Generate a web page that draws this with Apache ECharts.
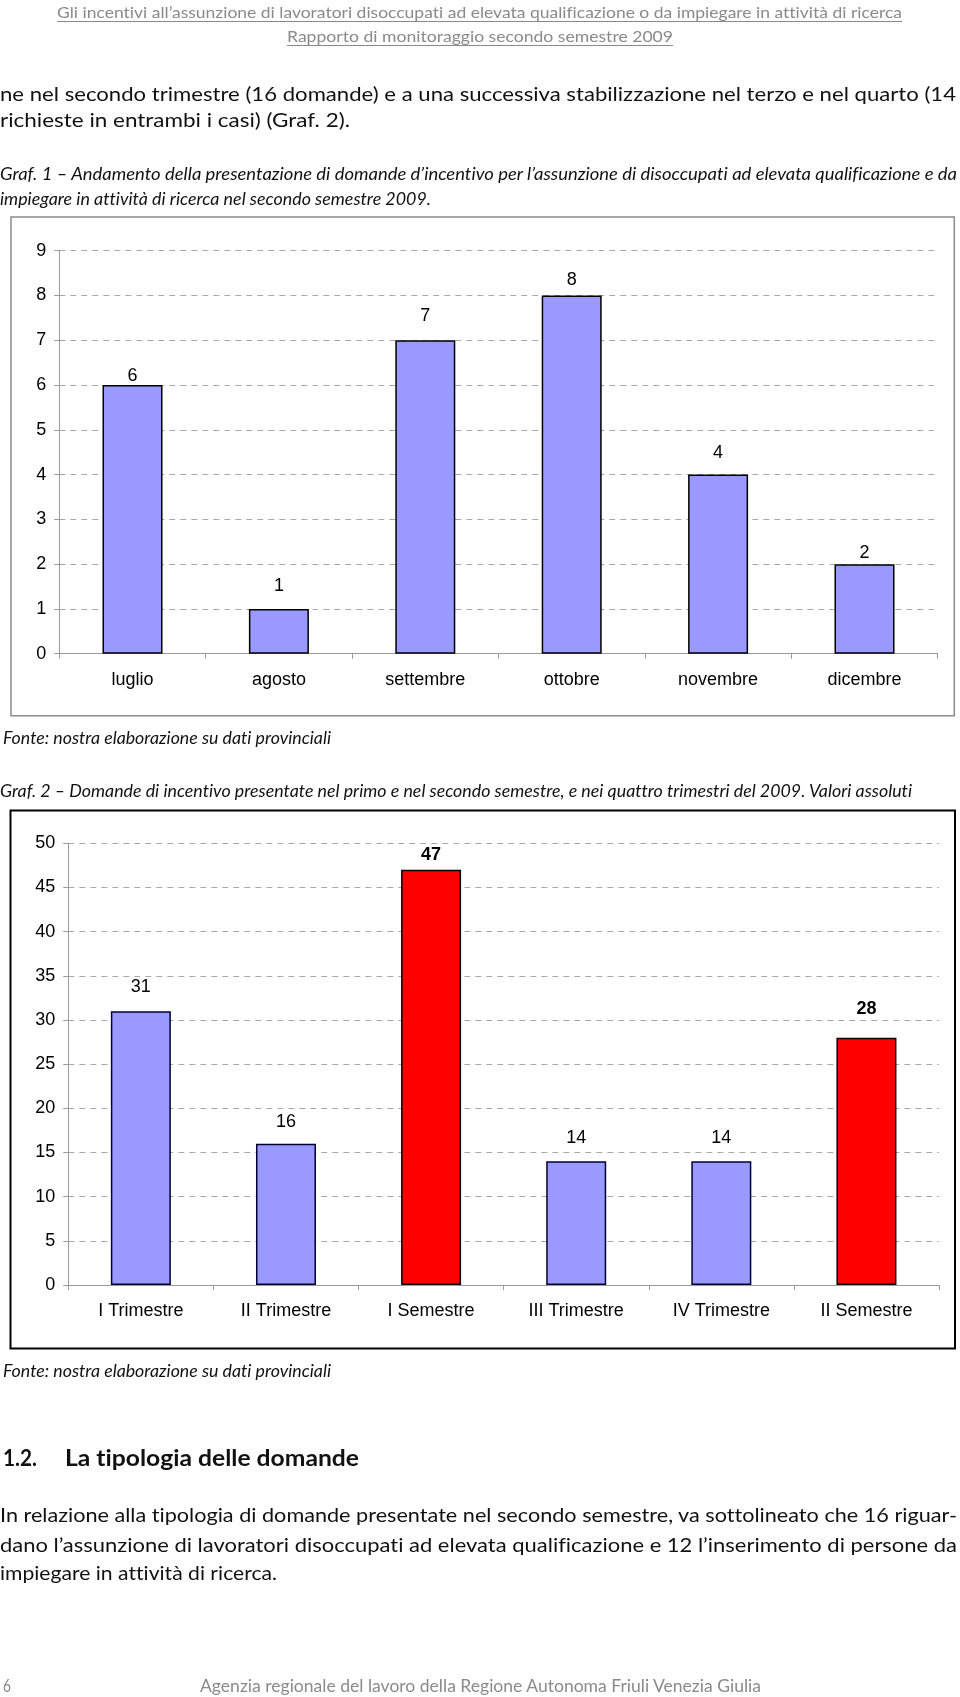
<!DOCTYPE html>
<html>
<head>
<meta charset="utf-8">
<script src="https://cdn.jsdelivr.net/npm/echarts@6/dist/echarts.min.js"></script>
<style>
  html, body { margin:0; padding:0; background:#fff; }
  body { width:960px; height:1697px; position:relative; overflow:hidden; }
  #chart { position:absolute; left:0; top:0; width:960px; height:1697px; }
  .ln { position:absolute; white-space:nowrap; font-family:Lato, 'Open Sans', sans-serif; color:#111; transform-origin:0 50%; z-index:2;
        font-variant-ligatures:none; font-feature-settings:"liga" 0, "clig" 0, "dlig" 0; }
  .hdr { color:#8a8a8a; text-decoration:underline; text-decoration-thickness:1px; text-underline-offset:3px; }
  .it { font-style:italic; }
  .bd { font-weight:bold; }
  .gr { color:#8a8a8a; }
</style>
</head>
<body>
<div id="chart"></div>
<script>
// ---------- DATA ----------
const months = ['luglio', 'agosto', 'settembre', 'ottobre', 'novembre', 'dicembre'];
const monthRequests = [6, 1, 7, 8, 4, 2];
const monthAxisTicks = [0, 1, 2, 3, 4, 5, 6, 7, 8, 9];

const periods = ['I Trimestre', 'II Trimestre', 'I Semestre', 'III Trimestre', 'IV Trimestre', 'II Semestre'];
const periodRequests = [31, 16, 47, 14, 14, 28];
const periodIsSemester = [false, false, true, false, false, true];
const periodAxisTicks = [0, 5, 10, 15, 20, 25, 30, 35, 40, 45, 50];

// ---------- PAGE TEXT ----------
const lines = [
  {t:'Gli incentivi all’assunzione di lavoratori disoccupati ad elevata qualificazione o da impiegare in attività di ricerca', x:57, w:845, y:12, fs:16, c:'hdr'},
  {t:'Rapporto di monitoraggio secondo semestre 2009', x:287, w:386, y:36, fs:16, c:'hdr'},
  {t:'ne nel secondo trimestre (16 domande) e a una successiva stabilizzazione nel terzo e nel quarto (14', x:0, w:956, y:94, fs:19},
  {t:'richieste in entrambi i casi) (Graf. 2).', x:0, w:350, y:120, fs:19},
  {t:'Graf. 1 – Andamento della presentazione di domande d’incentivo per l’assunzione di disoccupati ad elevata qualificazione e da', x:0, w:957, y:173, fs:17, c:'it'},
  {t:'impiegare in attività di ricerca nel secondo semestre 2009.', x:0, w:431, y:198, fs:17, c:'it'},
  {t:'Fonte: nostra elaborazione su dati provinciali', x:3, w:328, y:737, fs:17, c:'it'},
  {t:'Graf. 2 – Domande di incentivo presentate nel primo e nel secondo semestre, e nei quattro trimestri del 2009. Valori assoluti', x:0, w:912, y:790, fs:17, c:'it'},
  {t:'Fonte: nostra elaborazione su dati provinciali', x:3, w:328, y:1370, fs:17, c:'it'},
  {t:'1.2.', x:3, w:34, y:1457, fs:23, c:'bd'},
  {t:'La tipologia delle domande', x:65, w:294, y:1457, fs:23, c:'bd'},
  {t:'In relazione alla tipologia di domande presentate nel secondo semestre, va sottolineato che 16 riguar-', x:0, w:957, y:1515, fs:19},
  {t:'dano l’assunzione di lavoratori disoccupati ad elevata qualificazione e 12 l’inserimento di persone da', x:0, w:957, y:1545, fs:19},
  {t:'impiegare in attività di ricerca.', x:0, w:277, y:1573, fs:19},
  {t:'6', x:3, w:8, y:1685, fs:17, c:'gr'},
  {t:'Agenzia regionale del lavoro della Regione Autonoma Friuli Venezia Giulia', x:200, w:561, y:1685, fs:18, c:'gr'}
];
const spans = lines.map(l => {
  const s = document.createElement('span');
  s.className = 'ln ' + (l.c || '');
  s.textContent = l.t;
  const lh = Math.round(l.fs * 1.25);
  s.style.fontSize = l.fs + 'px';
  s.style.lineHeight = lh + 'px';
  s.style.left = l.x + 'px';
  s.style.top = (l.y - lh / 2) + 'px';
  document.body.appendChild(s);
  return s;
});
function fit() {
  spans.forEach((s, i) => {
    s.style.transform = 'none';
    const nat = s.getBoundingClientRect().width;
    if (nat > 0) s.style.transform = 'scaleX(' + (lines[i].w / nat) + ')';
  });
}
fit();
if (document.fonts && document.fonts.ready) document.fonts.ready.then(fit);

// ---------- CHART ----------
const FF = "'Liberation Sans', Arial, sans-serif";
const monthLabelGap = [0, 14, 15, 6, 13, 2];
const periodLabelGap = [15, 13, 6, 14, 14, 20];

function axisX(gi, cats) {
  return {
    type:'category', gridIndex:gi, data:cats, boundaryGap:true,
    axisLine:{show:true, lineStyle:{color:'#9a9a9a', width:1}},
    axisTick:{show:true, length:5, lineStyle:{color:'#9a9a9a'}},
    axisLabel:{fontSize:18, color:'#000', fontFamily:FF, margin:17, interval:0}
  };
}
function axisY(gi, ticks) {
  return {
    type:'value', gridIndex:gi, min:ticks[0], max:ticks[ticks.length-1], interval:ticks[1]-ticks[0],
    axisLine:{show:true, lineStyle:{color:'#9a9a9a', width:1}},
    axisTick:{show:true, length:5, lineStyle:{color:'#9a9a9a'}},
    axisLabel:{fontSize:18, color:'#000', fontFamily:FF, margin:13},
    splitLine:{show:true, lineStyle:{color:'#a8a8a8', type:[6,5], width:1}}
  };
}

const chart = echarts.init(document.getElementById('chart'), null, {renderer:'canvas'});
chart.setOption({
  animation:false,
  backgroundColor:'transparent',
  grid:[
    {left:59.3, top:250.7, width:878.4, height:403},
    {left:68.3, top:843.3, width:870.7, height:441.7}
  ],
  xAxis:[axisX(0, months), axisX(1, periods)],
  yAxis:[axisY(0, monthAxisTicks), axisY(1, periodAxisTicks)],
  graphic:[
    {type:'rect', z:-10, shape:{x:11, y:217, width:943.3, height:498.7}, style:{fill:null, stroke:'#8c8c8c', lineWidth:1.5}},
    {type:'rect', z:-10, shape:{x:10.5, y:810.5, width:944.5, height:538}, style:{fill:null, stroke:'#000', lineWidth:2}}
  ],
  series:[
    {
      type:'bar', xAxisIndex:0, yAxisIndex:0, barWidth:60,
      itemStyle:{color:'#9999FF', borderColor:'#000', borderWidth:1.5},
      label:{show:true, position:'top', fontSize:18, color:'#000', fontFamily:FF},
      data: monthRequests.map((v, i) => ({value:v, label:{distance:monthLabelGap[i]}}))
    },
    {
      type:'bar', xAxisIndex:1, yAxisIndex:1, barWidth:60,
      label:{show:true, position:'top', fontSize:18, color:'#000', fontFamily:FF},
      data: periodRequests.map((v, i) => ({
        value:v,
        itemStyle: periodIsSemester[i]
          ? {color:'#FF0000', borderColor:'#000', borderWidth:1.5}
          : {color:'#9999FF', borderColor:'#000033', borderWidth:1.5},
        label:{distance:periodLabelGap[i], fontWeight: periodIsSemester[i] ? 'bold' : 'normal'}
      }))
    }
  ]
});
</script>
</body>
</html>
